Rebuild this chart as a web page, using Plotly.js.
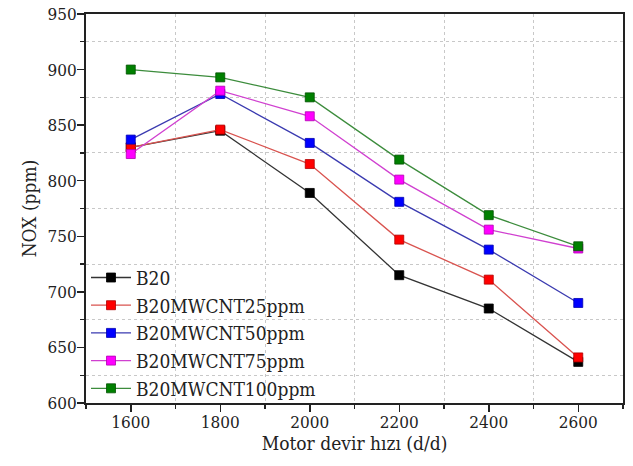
<!DOCTYPE html>
<html>
<head>
<meta charset="utf-8">
<script src="https://cdn.plot.ly/plotly-3.0.1.min.js"></script>
<style>html,body{margin:0;padding:0;background:#fff;}#chart{width:633px;height:466px;}</style>
</head>
<body>
<div id="chart"></div>
<script>
const speeds = [1600, 1800, 2000, 2200, 2400, 2600];
const seriesNames = ["B20", "B20MWCNT25ppm", "B20MWCNT50ppm", "B20MWCNT75ppm", "B20MWCNT100ppm"];
const b20 = [830, 845, 789, 715, 685, 637];
const b20mw25 = [830, 846, 815, 747, 711, 641];
const b20mw50 = [837, 878, 834, 781, 738, 690];
const b20mw75 = [824, 881, 858, 801, 756, 739];
const b20mw100 = [900, 893, 875, 819, 769, 741];
const seriesValues = [b20, b20mw25, b20mw50, b20mw75, b20mw100];
const colors = ["#000000", "#ff0000", "#0000ff", "#ff00ff", "#008000"];
const lineColors = ["#333333", "#d9534f", "#3a3ab0", "#d040d0", "#3c8c3c"];
const borderColors = ["#000000", "#b00000", "#0000b0", "#b000b0", "#005000"];

const traces = seriesNames.map((name, i) => ({
  x: speeds,
  y: seriesValues[i],
  name: name,
  type: "scatter",
  mode: "lines+markers",
  line: {color: lineColors[i], width: 1.3},
  marker: {symbol: "square", size: 9, color: colors[i], line: {color: borderColors[i], width: 0.8}}
}));

const fontFam = "DejaVu Serif Condensed, DejaVu Serif, serif";
const layout = {
  width: 633, height: 466,
  margin: {l: 86, r: 10, t: 14, b: 63},
  paper_bgcolor: "#fff", plot_bgcolor: "#fff",
  font: {family: fontFam, color: "#222", size: 17},
  showlegend: true,
  legend: {
    x: 0.0, y: -0.012, xanchor: "left", yanchor: "bottom",
    bgcolor: "rgba(0,0,0,0)", borderwidth: 0,
    font: {family: fontFam, size: 19, color: "#222"},
    itemwidth: 40, tracegroupgap: 0
  },
  xaxis: {
    range: [1500, 2700], dtick: 200, tick0: 1600,
    ticks: "outside", ticklen: 7, tickwidth: 1.5, tickcolor: "#222",
    ticklabelstandoff: -4,
    showline: true, linecolor: "#222", linewidth: 1.8, mirror: true,
    showgrid: false, zeroline: false,
    tickfont: {family: fontFam, size: 17, color: "#222"},
    minor: {dtick: 100, ticks: "outside", ticklen: 4, tickwidth: 1.2, tickcolor: "#222", showgrid: true, gridcolor: "#c8c8c8", griddash: "dot", gridwidth: 1},
    title: {text: "Motor devir hızı (d/d)", font: {family: fontFam, size: 19, color: "#222"}, standoff: 0}
  },
  yaxis: {
    range: [600, 950], dtick: 50, tick0: 600,
    ticks: "outside", ticklen: 7, tickwidth: 1.5, tickcolor: "#222",
    ticklabelstandoff: -3,
    showline: true, linecolor: "#222", linewidth: 1.8, mirror: true,
    showgrid: false, zeroline: false,
    tickfont: {family: fontFam, size: 17, color: "#222"},
    minor: {dtick: 25, ticks: "outside", ticklen: 4, tickwidth: 1.2, tickcolor: "#222", showgrid: true, gridcolor: "#c8c8c8", griddash: "dot", gridwidth: 1},
    title: {text: "NOX (ppm)", font: {family: fontFam, size: 19, color: "#222"}, standoff: 6}
  }
};

Plotly.newPlot("chart", traces, layout, {displayModeBar: false, staticPlot: true});
</script>
</body>
</html>
